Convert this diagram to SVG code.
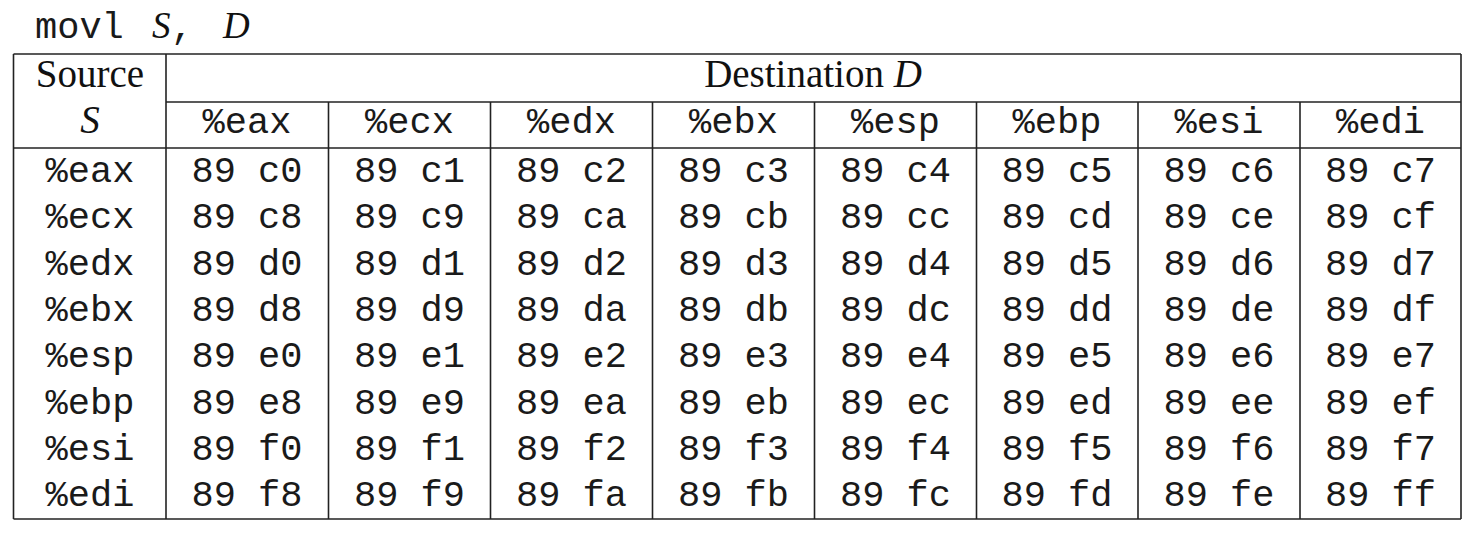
<svg xmlns="http://www.w3.org/2000/svg" width="1484" height="544" viewBox="0 0 1484 544">
<style>
.m{font-family:"Liberation Mono","Courier New",monospace;font-size:37px;fill:#1a1a1a;text-anchor:middle}
.t{font-family:"Liberation Serif","Times New Roman",serif;font-size:39px;fill:#111}
.i{font-style:italic}
.c{text-anchor:middle}
line{stroke:#222;stroke-width:1.6}
</style>
<rect width="1484" height="544" fill="#fff"/>
<g id="title">
<text class="m" x="35" y="38" style="text-anchor:start">movl</text>
<text class="t i" x="152" y="38" style="font-size:37px">S</text>
<text class="m" x="182" y="38">,</text>
<text class="t i" x="223" y="38" style="font-size:37px">D</text>
</g>
<g id="grid">
<line x1="13.5" y1="54" x2="1461" y2="54"/>
<line x1="166" y1="102" x2="1461" y2="102"/>
<line x1="13.5" y1="148" x2="1461" y2="148"/>
<line x1="13.5" y1="519" x2="1461" y2="519"/>
<line x1="13.5" y1="54" x2="13.5" y2="519"/>
<line x1="1461" y1="54" x2="1461" y2="519"/>
<line x1="166" y1="54" x2="166" y2="519"/>
<line x1="328.5" y1="102" x2="328.5" y2="519"/>
<line x1="490.5" y1="102" x2="490.5" y2="519"/>
<line x1="652.5" y1="102" x2="652.5" y2="519"/>
<line x1="814.5" y1="102" x2="814.5" y2="519"/>
<line x1="976.5" y1="102" x2="976.5" y2="519"/>
<line x1="1138" y1="102" x2="1138" y2="519"/>
<line x1="1300" y1="102" x2="1300" y2="519"/>
</g>
<g id="header">
<text class="t c" x="90" y="87">Source</text>
<text class="t i c" x="90" y="133">S</text>
<text class="t c" x="813" y="87">Destination <tspan class="i">D</tspan></text>
<text class="m" x="247" y="133">%eax</text>
<text class="m" x="409.5" y="133">%ecx</text>
<text class="m" x="571.5" y="133">%edx</text>
<text class="m" x="733.5" y="133">%ebx</text>
<text class="m" x="895.5" y="133">%esp</text>
<text class="m" x="1057" y="133">%ebp</text>
<text class="m" x="1219" y="133">%esi</text>
<text class="m" x="1380.5" y="133">%edi</text>
</g>
<g id="row-eax">
<text class="m" x="90" y="182">%eax</text>
<text class="m" x="247" y="182">89 c0</text><text class="m" x="409.5" y="182">89 c1</text><text class="m" x="571.5" y="182">89 c2</text><text class="m" x="733.5" y="182">89 c3</text><text class="m" x="895.5" y="182">89 c4</text><text class="m" x="1057" y="182">89 c5</text><text class="m" x="1219" y="182">89 c6</text><text class="m" x="1380.5" y="182">89 c7</text>
</g>
<g id="row-ecx">
<text class="m" x="90" y="228.3">%ecx</text>
<text class="m" x="247" y="228.3">89 c8</text><text class="m" x="409.5" y="228.3">89 c9</text><text class="m" x="571.5" y="228.3">89 ca</text><text class="m" x="733.5" y="228.3">89 cb</text><text class="m" x="895.5" y="228.3">89 cc</text><text class="m" x="1057" y="228.3">89 cd</text><text class="m" x="1219" y="228.3">89 ce</text><text class="m" x="1380.5" y="228.3">89 cf</text>
</g>
<g id="row-edx">
<text class="m" x="90" y="274.6">%edx</text>
<text class="m" x="247" y="274.6">89 d0</text><text class="m" x="409.5" y="274.6">89 d1</text><text class="m" x="571.5" y="274.6">89 d2</text><text class="m" x="733.5" y="274.6">89 d3</text><text class="m" x="895.5" y="274.6">89 d4</text><text class="m" x="1057" y="274.6">89 d5</text><text class="m" x="1219" y="274.6">89 d6</text><text class="m" x="1380.5" y="274.6">89 d7</text>
</g>
<g id="row-ebx">
<text class="m" x="90" y="320.9">%ebx</text>
<text class="m" x="247" y="320.9">89 d8</text><text class="m" x="409.5" y="320.9">89 d9</text><text class="m" x="571.5" y="320.9">89 da</text><text class="m" x="733.5" y="320.9">89 db</text><text class="m" x="895.5" y="320.9">89 dc</text><text class="m" x="1057" y="320.9">89 dd</text><text class="m" x="1219" y="320.9">89 de</text><text class="m" x="1380.5" y="320.9">89 df</text>
</g>
<g id="row-esp">
<text class="m" x="90" y="367.2">%esp</text>
<text class="m" x="247" y="367.2">89 e0</text><text class="m" x="409.5" y="367.2">89 e1</text><text class="m" x="571.5" y="367.2">89 e2</text><text class="m" x="733.5" y="367.2">89 e3</text><text class="m" x="895.5" y="367.2">89 e4</text><text class="m" x="1057" y="367.2">89 e5</text><text class="m" x="1219" y="367.2">89 e6</text><text class="m" x="1380.5" y="367.2">89 e7</text>
</g>
<g id="row-ebp">
<text class="m" x="90" y="413.5">%ebp</text>
<text class="m" x="247" y="413.5">89 e8</text><text class="m" x="409.5" y="413.5">89 e9</text><text class="m" x="571.5" y="413.5">89 ea</text><text class="m" x="733.5" y="413.5">89 eb</text><text class="m" x="895.5" y="413.5">89 ec</text><text class="m" x="1057" y="413.5">89 ed</text><text class="m" x="1219" y="413.5">89 ee</text><text class="m" x="1380.5" y="413.5">89 ef</text>
</g>
<g id="row-esi">
<text class="m" x="90" y="459.8">%esi</text>
<text class="m" x="247" y="459.8">89 f0</text><text class="m" x="409.5" y="459.8">89 f1</text><text class="m" x="571.5" y="459.8">89 f2</text><text class="m" x="733.5" y="459.8">89 f3</text><text class="m" x="895.5" y="459.8">89 f4</text><text class="m" x="1057" y="459.8">89 f5</text><text class="m" x="1219" y="459.8">89 f6</text><text class="m" x="1380.5" y="459.8">89 f7</text>
</g>
<g id="row-edi">
<text class="m" x="90" y="506">%edi</text>
<text class="m" x="247" y="506">89 f8</text><text class="m" x="409.5" y="506">89 f9</text><text class="m" x="571.5" y="506">89 fa</text><text class="m" x="733.5" y="506">89 fb</text><text class="m" x="895.5" y="506">89 fc</text><text class="m" x="1057" y="506">89 fd</text><text class="m" x="1219" y="506">89 fe</text><text class="m" x="1380.5" y="506">89 ff</text>
</g>
</svg>
